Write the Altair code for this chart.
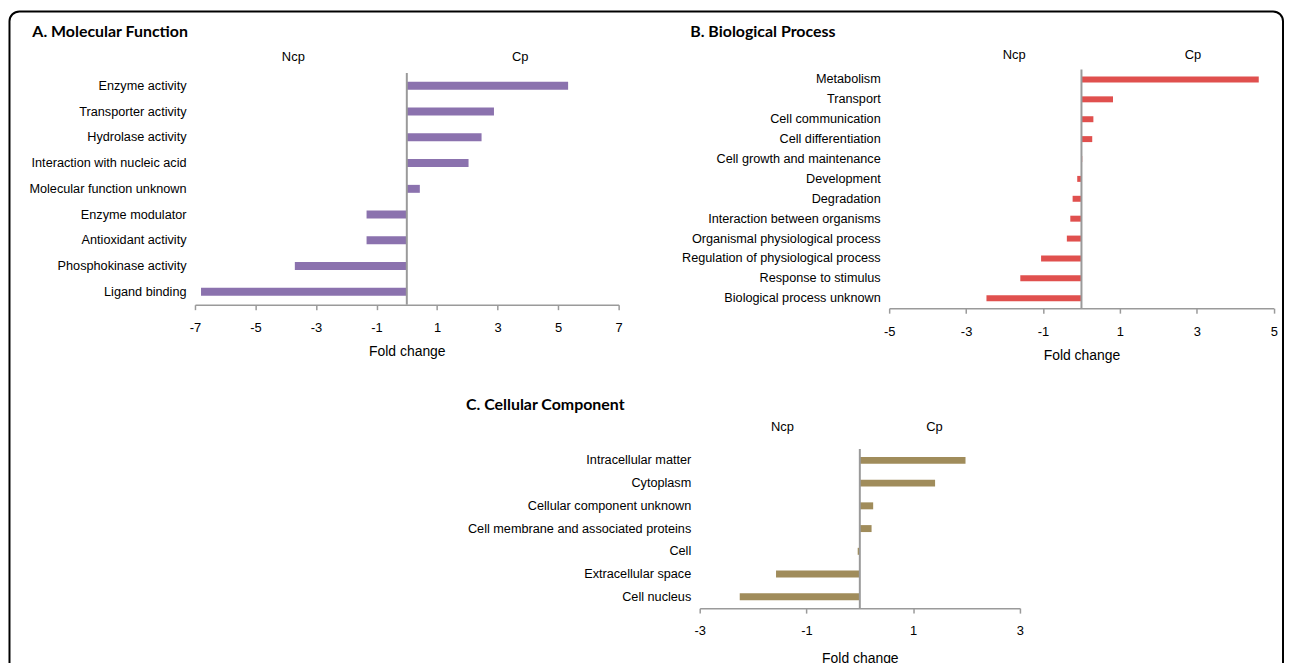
import altair as alt
import pandas as pd

# ---------------- data ----------------
mf_labels = ["Enzyme activity", "Transporter activity", "Hydrolase activity",
             "Interaction with nucleic acid", "Molecular function unknown",
             "Enzyme modulator", "Antioxidant activity", "Phosphokinase activity",
             "Ligand binding"]
mf_values = [5.33, 2.88, 2.47, 2.04, 0.43, -1.33, -1.33, -3.70, -6.80]

bp_labels = ["Metabolism", "Transport", "Cell communication", "Cell differentiation",
             "Cell growth and maintenance", "Development", "Degradation",
             "Interaction between organisms", "Organismal physiological process",
             "Regulation of physiological process", "Response to stimulus",
             "Biological process unknown"]
bp_values = [4.61, 0.82, 0.31, 0.28, 0.02, -0.11, -0.23, -0.29, -0.38, -1.05, -1.59, -2.47]

cc_labels = ["Intracellular matter", "Cytoplasm", "Cellular component unknown",
             "Cell membrane and associated proteins", "Cell", "Extracellular space",
             "Cell nucleus"]
cc_values = [1.98, 1.41, 0.25, 0.22, -0.04, -1.57, -2.25]

side_names = ["Ncp", "Cp"]
mf_side_pos = [-3.75, 3.75]
bp_side_pos = [-1.75, 2.9]
cc_side_pos = [-1.45, 1.4]

mf_ticks = [-7, -5, -3, -1, 1, 3, 5, 7]
bp_ticks = [-5, -3, -1, 1, 3, 5]
cc_ticks = [-3, -1, 1, 3]

FONT = "Liberation Sans"
TITLE_FONT = "Lato"
GRAY = "#9a9a9a"


def panel(labels, values, color, domain, ticks, width, height, bar_size,
          side_pos, side_y, title, title_dx, title_offset, axis_title_pad):
    df = pd.DataFrame({"term": labels, "fold": values})
    xscale = alt.Scale(domain=domain, nice=False, zero=False)
    xaxis = alt.Axis(values=ticks, title="Fold change", grid=False,
                     domainColor=GRAY, domainWidth=1.5, tickColor=GRAY, tickWidth=1.5,
                     tickSize=5, labelPadding=12, titlePadding=axis_title_pad,
                     labelFont=FONT, labelFontSize=13, labelColor="#000",
                     titleFont=FONT, titleFontSize=14, titleFontWeight="normal",
                     titleColor="#000", labelExpr="'' + datum.value", labelFlush=False)
    yaxis = alt.Axis(title=None, domain=False, ticks=False, labelPadding=9,
                     labelLimit=400, labelFont=FONT, labelFontSize=12.75,
                     labelColor="#000")
    bars = alt.Chart(df).mark_bar(size=bar_size, color=color).encode(
        x=alt.X("fold:Q", scale=xscale, axis=xaxis),
        x2=alt.datum(0),
        y=alt.Y("term:N", sort=labels,
                scale=alt.Scale(paddingInner=0, paddingOuter=0), axis=yaxis),
    )
    zero = alt.Chart(pd.DataFrame({"z": [0]})).mark_rule(
        color=GRAY, strokeWidth=2).encode(x=alt.X("z:Q", scale=xscale))
    side = alt.Chart(pd.DataFrame({"side": side_names, "pos": side_pos})).mark_text(
        font=FONT, fontSize=13, color="#000").encode(
        x=alt.X("pos:Q", scale=xscale), y=alt.value(side_y), text="side:N")
    return alt.layer(bars, zero, side).properties(
        width=width, height=height,
        title=alt.TitleParams(title, anchor="start", frame="group", dx=title_dx,
                              offset=title_offset, font=TITLE_FONT, fontSize=16,
                              fontWeight="bold", color="#000"))


A = panel(mf_labels, mf_values, "#8b72ae", [-7, 7], mf_ticks, 426, 233, 8,
          mf_side_pos, -16, "A. Molecular Function", -163.5, 11, 10.5)
B = panel(bp_labels, bp_values, "#e0504e", [-5, 5], bp_ticks, 386.7, 240, 6,
          bp_side_pos, -14.5, "B. Biological Process", -200, 9, 10.5)
C = panel(cc_labels, cc_values, "#a08c5b", [-3, 3], cc_ticks, 322, 160, 7,
          cc_side_pos, -22.5, "C. Cellular Component", -235, 8, 14)

# frame around the whole figure (drawn from the empty cell left of panel C)
spacer = alt.Chart(pd.DataFrame({"a": [0]})).mark_rect(
    stroke="#000", strokeWidth=2, cornerRadius=10, fillOpacity=0).encode(
    x=alt.value(-186.5), x2=alt.value(1094), y=alt.value(-440), y2=alt.value(225)
).properties(width=1, height=160)

row1 = alt.hconcat(A, B, spacing=272, center=True, bounds="flush")
row2 = alt.hconcat(spacer, C, spacing=506.5, bounds="flush")
# nested rows count with zero height under flush bounds, so the spacing
# includes the height of the first row (240 px)
chart = alt.vconcat(row1, row2, spacing=381.6, bounds="flush").properties(
    padding=0, background="white"
).configure_view(stroke=None)

chart.save("out.html", embed_options={"renderer": "svg", "actions": False})
